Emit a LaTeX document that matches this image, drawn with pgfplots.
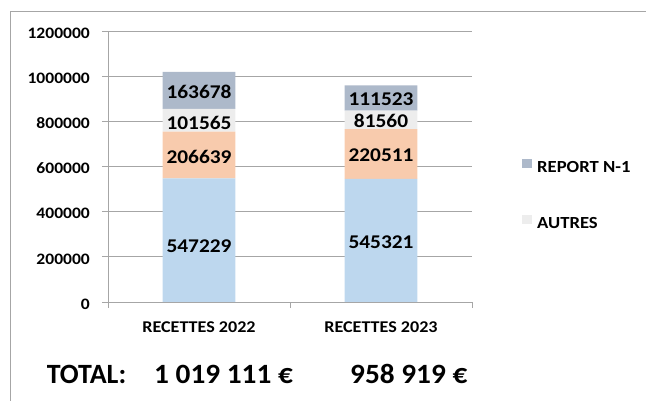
\documentclass[border=0pt]{standalone}
\usepackage{pgfplots}
\pgfplotsset{compat=1.18}
\usepackage{fontspec}
\setmainfont{Carlito}
\newfontfamily\widefont{Carlito}[FakeStretch=1.1]
\newfontfamily\totfont{Carlito}[FakeStretch=1.05]
\definecolor{cBlue}{HTML}{BDD7EE}
\definecolor{cOrange}{HTML}{F8CBAD}
\definecolor{cAutres}{HTML}{EDEDED}
\definecolor{cReport}{HTML}{ADB9CA}
\definecolor{cLine}{HTML}{A6A6A6}
\tikzset{barlab/.style={font=\widefont\bfseries\fontsize{19.5}{19.5}\selectfont, inner sep=0pt}}
\pgfplotsset{
  frame/.style={at={(108bp,99bp)}, anchor=south west,
    scale only axis, width=364bp, height=271bp,
    xmin=-0.5, xmax=1.5, ymin=0, ymax=1200000},
}
\begin{document}
\begin{tikzpicture}
\useasboundingbox (0,0) rectangle (646bp,401bp);
% chart frame
\draw[cLine, line width=0.8bp] (10bp,0) -- (10bp,390bp) -- (646bp,390bp);
\begin{axis}[
    frame,
    ybar stacked, bar width=0.4,
    axis x line*=bottom, axis y line*=left,
    axis line style={cLine, line width=0.8bp},
    tick style={cLine, line width=0.8bp},
    tick align=outside, major tick length=6bp,
    ymajorgrids, grid style={cLine, line width=0.8bp},
    ytick={0,200000,400000,600000,800000,1000000,1200000},
    scaled y ticks=false,
    yticklabel style={/pgf/number format/fixed, /pgf/number format/1000 sep={},
        /pgf/number format/assume math mode=true,
        font=\widefont\bfseries\fontsize{16}{16}\selectfont, anchor=east, inner sep=0pt,
        xshift=-12bp, yshift=-2bp},
    xtick={-0.5,0.5,1.5}, xticklabels={},
    extra x ticks={0,1},
    extra x tick labels={RECETTES 2022,RECETTES 2023},
    extra x tick style={major tick length=0pt,
        xticklabel style={font=\widefont\bfseries\fontsize{16.5}{16.5}\selectfont, anchor=base, inner sep=0pt, yshift=-30.7bp}},
    legend style={draw=none, fill=none, at={(1.1374,0.527)}, anchor=north west,
        inner sep=0pt, row sep=42.3bp,
        font=\widefont\bfseries\fontsize{17}{17}\selectfont,
        nodes={inner sep=0pt, text height=11bp, text depth=0pt},
        /tikz/every odd column/.append style={column sep=5bp}},
    legend cell align=left, reverse legend,
]
\addplot[fill=cBlue, draw=none, forget plot] coordinates {(0,547229) (1,545321)};
\addplot[fill=cOrange, draw=none, forget plot] coordinates {(0,206639) (1,220511)};
\addplot[fill=cAutres, draw=none,
    legend image code/.code={\fill[cAutres] (0bp,-1bp) rectangle (10bp,8bp);}]
    coordinates {(0,101565) (1,81560)};
\addlegendentry{AUTRES}
\addplot[fill=cReport, draw=none,
    legend image code/.code={\fill[cReport] (0bp,-1bp) rectangle (10bp,8bp);}]
    coordinates {(0,163678) (1,111523)};
\addlegendentry{REPORT N-1}
\end{axis}
% value labels, on an overlaid axis with the same geometry
\begin{axis}[frame, hide axis]
\node[barlab] at (axis cs:0,247970) {547229};
\node[barlab] at (axis cs:0,642066) {206639};
\node[barlab] at (axis cs:0,793505) {101565};
\node[barlab] at (axis cs:0,929000) {163678};
\node[barlab] at (axis cs:1,267011) {545321};
\node[barlab] at (axis cs:1,652250) {220511};
\node[barlab] at (axis cs:1,803690) {81560};
\node[barlab] at (axis cs:1,896680) {111523};
\end{axis}
\node[anchor=base west, inner sep=0pt, font=\bfseries\fontsize{28}{28}\selectfont] at (46.7bp,17.7bp) {TOTAL:};
\node[anchor=base west, inner sep=0pt, font=\totfont\bfseries\fontsize{28}{28}\selectfont] at (154bp,17.7bp) {1~019~111~€};
\node[anchor=base west, inner sep=0pt, font=\totfont\bfseries\fontsize{28}{28}\selectfont] at (350bp,17.7bp) {958~919~€};
\end{tikzpicture}
\end{document}
